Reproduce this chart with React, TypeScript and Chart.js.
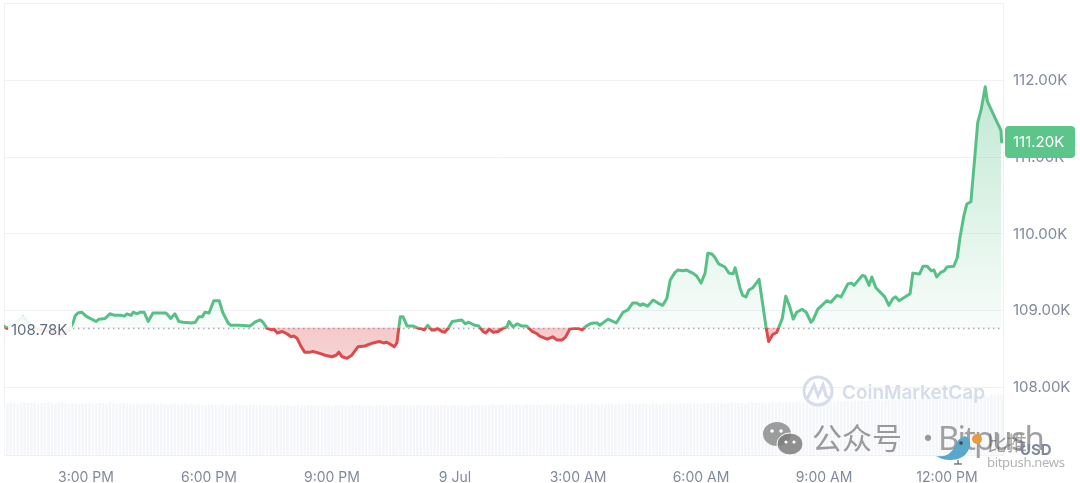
import React, { useEffect, useRef } from "react";
import { Chart, registerables } from "chart.js";

Chart.register(...registerables);

// minutes since 1:00 PM
const minutes = [0,4,15,28,40,53,67,85,95,101,104,108,114,120,126,135,139,148,155,162,170,176,180,186,189,195,199,205,211,218,224,237,240,244,250,256,262,275,280,285,290,294,300,307,315,320,328,332,345,
360,367,375,379,385,392,395,400,407,414,420,424,429,435,440,448,452,460,470,480,486,490,495,502,509,518,528,540,549,555,560,566,571,575,578,580,584,590,599,607,
609,615,620,626,631,634,641,645,650,656,670,675,680,689,695,701,705,710,716,723,730,736,739,745,751,758,765,773,780,784,795,803,809,817,822,828,834,840,846,852,858,863,868,872,
884,896,906,913,920,926,931,935,942,950,957,964,970,975,982,986,994,999,1008,1014,1020,1026,1030,1036,1040,1046,1055,1061,1067,1070,1077,1081,1086,1090,1096,1105,1115,1119,1125,1131,1139,1144,1150,1155,1160,1168,1174,1181,1184,1191,1197,1204,1210,1219,1225,1235,1240,1244,1256,1260,1266,1270,1276,1289,1295,1301,1305,1310,1326,1330,1340,1345,1351,1357,1361,1365,1371,1376,1380,1390,1395,1399,1405,1409,1415,1421,1425,1430,1436,1439,1450,1459,1460];

// price in thousands of USD
const prices = [108.80,108.77,108.83,108.92,108.81,108.75,108.73,108.68,108.75,108.84,108.93,108.97,108.98,108.93,108.90,108.86,108.89,108.90,108.96,108.94,108.94,108.93,108.96,108.94,108.98,108.96,108.98,108.98,108.86,108.97,108.97,108.97,108.94,108.90,108.96,108.86,108.85,108.84,108.85,108.92,108.92,108.98,108.97,109.13,109.13,108.98,108.84,108.81,108.81,
108.80,108.85,108.88,108.85,108.77,108.75,108.76,108.71,108.73,108.70,108.66,108.67,108.64,108.53,108.46,108.46,108.47,108.45,108.42,108.40,108.42,108.46,108.40,108.38,108.42,108.53,108.54,108.58,108.60,108.58,108.59,108.56,108.53,108.58,108.79,108.92,108.92,108.80,108.80,108.77,
108.77,108.75,108.81,108.75,108.75,108.77,108.73,108.72,108.77,108.86,108.88,108.83,108.85,108.81,108.80,108.73,108.71,108.76,108.72,108.73,108.77,108.79,108.86,108.79,108.83,108.80,108.80,108.73,108.70,108.67,108.63,108.66,108.62,108.62,108.66,108.76,108.77,108.77,108.75,108.80,108.83,108.84,108.84,108.81,
108.89,108.84,108.98,109.01,109.10,109.10,109.07,109.09,109.06,109.14,109.10,109.07,109.16,109.40,109.50,109.53,109.52,109.53,109.49,109.45,109.36,109.49,109.75,109.74,109.70,109.61,109.57,109.49,109.48,109.56,109.30,109.20,109.18,109.27,109.30,109.41,108.80,108.60,108.69,108.72,108.90,109.19,109.05,108.89,108.98,109.02,108.98,108.85,108.88,109.02,109.07,109.13,109.11,109.20,109.18,109.35,109.36,109.33,109.46,109.45,109.33,109.44,109.30,109.18,109.07,109.16,109.18,109.13,109.22,109.49,109.48,109.58,109.58,109.52,109.53,109.44,109.50,109.52,109.57,109.58,109.69,109.95,110.25,110.39,110.42,111.03,111.45,111.62,111.92,111.73,111.52,111.35,111.20];

// bars every five minutes from 1:00 PM, arbitrary volume units
const volumes = [
100,99,101,100,98,100,101,99,100,100,97,99,100,101,99,98,100,101,100,98,
99,100,97,98,99,100,98,98,100,99,97,101,100,98,99,100,99,98,97,98,
97,97,98,97,98,96,98,97,96,97,98,96,97,98,96,97,96,97,96,95,
97,96,96,95,97,96,95,96,97,95,96,95,96,96,95,96,95,96,95,94,
96,95,95,96,94,95,96,95,94,95,96,95,95,94,96,95,94,95,95,96,
95,94,96,95,95,94,95,96,94,95,95,96,95,94,95,96,95,95,94,96,
95,96,95,94,96,95,96,95,95,96,94,95,96,95,96,95,94,96,95,96,
96,95,96,97,95,96,96,97,95,96,97,96,95,97,96,96,97,96,95,97,
96,97,96,97,98,96,97,96,98,97,96,97,98,97,96,98,97,98,97,96,
98,97,98,99,97,98,97,99,98,97,99,98,97,99,98,99,97,98,99,98,
99,98,100,99,98,100,99,98,100,99,100,98,99,101,100,99,100,98,100,101,
99,100,101,99,100,102,100,101,99,101,102,100,101,102,100,102,101,103,101,102,
103,101,103,102,104,102,103,104,102,104,103,105,103,104,106,104,105,103,106,104,
106,105,107,105,108,106,107,109,107,109,108,110,108,110,109,111,109,112,110,111,
112,110,113,111,114,112,113,115,113,116,114,116,115,117,115,118,116,118,117,119
];

const referencePrice = 108.78;
const lastPrice = "111.20K";
const referenceLabel = "108.78K";
const priceTicks = [108, 109, 110, 111, 112, 113];
const timeTicks = [120, 300, 480, 660, 840, 1020, 1200, 1380];
const timeLabels = ["3:00 PM", "6:00 PM", "9:00 PM", "9 Jul", "3:00 AM", "6:00 AM", "9:00 AM", "12:00 PM"];

const GREEN = "#57c087";
const RED = "#dc4a4c";
const FONT = "Inter, 'Noto Sans', sans-serif";

const overlay = {
  id: "overlay",
  beforeDatasetsDraw(chart: any) {
    const { ctx, chartArea: a, scales } = chart;
    ctx.save();
    ctx.strokeStyle = "#eff2f5";
    ctx.lineWidth = 1;
    ctx.beginPath();
    ctx.moveTo(a.left + 0.5, a.top);
    ctx.lineTo(a.left + 0.5, a.bottom);
    ctx.moveTo(a.right + 0.5, a.top);
    ctx.lineTo(a.right + 0.5, a.bottom);
    ctx.stroke();
    const y = Math.round(scales.y.getPixelForValue(referencePrice)) + 0.5;
    ctx.strokeStyle = "#a6adb8";
    ctx.lineWidth = 1.5;
    ctx.setLineDash([1.5, 3.5]);
    ctx.beginPath();
    ctx.moveTo(a.left + 4, y);
    ctx.lineTo(a.right, y);
    ctx.stroke();
    ctx.restore();
  },
  afterDatasetsDraw(chart: any) {
    const { ctx, chartArea: a, scales } = chart;
    const y = scales.y.getPixelForValue(referencePrice);
    ctx.save();
    ctx.fillStyle = "rgba(255,255,255,0.9)";
    ctx.fillRect(a.left + 4, y - 12, 64, 26);
    ctx.fillStyle = "#616e85";
    ctx.font = `15px ${FONT}`;
    ctx.textBaseline = "middle";
    ctx.textAlign = "left";
    ctx.fillText(referenceLabel, a.left + 7, y + 3);
    ctx.restore();
  },
  afterDraw(chart: any) {
    const { ctx, chartArea: a, scales } = chart;
    const y = scales.y.getPixelForValue(Number(lastPrice.replace("K", "")));
    ctx.save();
    ctx.fillStyle = "#5cc68a";
    ctx.beginPath();
    ctx.roundRect(a.right + 2, y - 16, 70, 32, 4);
    ctx.fill();
    ctx.fillStyle = "#ffffff";
    ctx.font = `15px ${FONT}`;
    ctx.textBaseline = "middle";
    ctx.textAlign = "left";
    ctx.fillText(lastPrice, a.right + 10, y + 1);
    ctx.restore();
  },
};

export default function App() {
  const ref = useRef<HTMLCanvasElement>(null);
  useEffect(() => {
    const canvas = ref.current!;
    const chart = new Chart(canvas, {
      type: "line",
      data: {
        datasets: [
          {
            type: "line",
            data: minutes.map((m, i) => ({ x: m, y: prices[i] })),
            borderColor: GREEN,
            borderWidth: 3,
            borderJoinStyle: "round",
            borderCapStyle: "round",
            pointRadius: 0,
            tension: 0,
            order: 1,
            yAxisID: "y",
          } as any,
          {
            type: "bar",
            data: volumes.map((v, i) => ({ x: i * 5, y: v })),
            backgroundColor: "#f4f6f9",
            barThickness: 1.8,
            order: 2,
            yAxisID: "vol",
          } as any,
        ],
      },
      options: {
        animation: false,
        responsive: false,
        events: [],
        layout: { padding: { left: 4, top: 3, right: 0, bottom: 0 } },
        plugins: { legend: { display: false }, tooltip: { enabled: false } },
        scales: {
          x: {
            type: "linear",
            offset: false,
            min: 0,
            max: 1462,
            afterBuildTicks: (s: any) => {
              s.ticks = timeTicks.map((value) => ({ value }));
            },
            afterFit: (s: any) => {
              s.height = 28;
              s.paddingLeft = 0;
              s.paddingRight = 0;
            },
            grid: { display: false },
            border: { display: true, color: "#eff2f5" },
            ticks: {
              autoSkip: false,
              maxRotation: 0,
              padding: 6,
              color: "#808a9d",
              font: { family: FONT, size: 14 },
              callback: (v: any) => timeLabels[timeTicks.indexOf(v)] ?? "",
            },
          },
          y: {
            position: "right",
            min: 107.12,
            max: 113.01,
            afterBuildTicks: (s: any) => {
              s.ticks = priceTicks.map((value) => ({ value }));
            },
            afterFit: (s: any) => {
              s.width = 77;
              s.paddingTop = 0;
              s.paddingBottom = 0;
            },
            grid: { color: "#eff2f5", drawTicks: false },
            border: { display: false },
            ticks: {
              padding: 10,
              color: "#808a9d",
              font: { family: FONT, size: 15 },
              callback: (v: any) => (v === 113 ? "" : `${Number(v).toFixed(2)}K`),
            },
          },
          vol: { display: false, min: 0, max: 869 },
        },
      },
      plugins: [overlay],
    } as any);

    const ctx = canvas.getContext("2d")!;
    const base = chart.scales.y.getPixelForValue(referencePrice);
    const top = chart.scales.y.getPixelForValue(Math.max(...prices));
    const low = chart.scales.y.getPixelForValue(Math.min(...prices));

    const stroke = ctx.createLinearGradient(0, top, 0, low);
    const f = (base - top) / (low - top);
    stroke.addColorStop(0, GREEN);
    stroke.addColorStop(f, GREEN);
    stroke.addColorStop(f, RED);
    stroke.addColorStop(1, RED);

    const above = ctx.createLinearGradient(0, top, 0, base);
    above.addColorStop(0, "rgba(87,192,135,0.36)");
    above.addColorStop(1, "rgba(87,192,135,0.04)");

    const below = ctx.createLinearGradient(0, base, 0, low);
    below.addColorStop(0, "rgba(220,74,76,0.30)");
    below.addColorStop(1, "rgba(220,74,76,0.24)");

    const ds: any = chart.data.datasets[0];
    ds.borderColor = stroke;
    ds.fill = { target: { value: referencePrice }, above, below };
    chart.update();
    return () => chart.destroy();
  }, []);

  return (
    <div style={{ position: "fixed", left: 0, top: 0, width: 1080, height: 483, background: "#fff", overflow: "hidden" }}>
      <canvas ref={ref} width={1080} height={483} style={{ position: "absolute", left: 0, top: 0, width: 1080, height: 483 }} />
      <svg width={1080} height={483} style={{ position: "absolute", left: 0, top: 0 }}>
        <circle cx={818} cy={391} r={14} fill="none" stroke="#d6dce9" strokeWidth={3} />
        <path d="M807 399 L814 385 L818 396 L823 385 L826 396 Q829 399 832 396" fill="none" stroke="#d6dce9" strokeWidth={3} />
        <text x={842} y={399} fontFamily={FONT} fontSize={19} fontWeight={600} fill="#d6dce9" textLength={143}>CoinMarketCap</text>
        <ellipse cx={777} cy={434} rx={14} ry={12} fill="rgba(125,125,125,0.75)" />
        <ellipse cx={790} cy={444} rx={13} ry={11} fill="rgba(125,125,125,0.85)" stroke="#fff" strokeWidth={1} />
        <circle cx={772} cy={431} r={1.8} fill="#fff" />
        <circle cx={781} cy={431} r={1.8} fill="#fff" />
        <circle cx={786} cy={442} r={1.6} fill="#fff" />
        <circle cx={794} cy={442} r={1.6} fill="#fff" />
        <text x={812} y={449} fontFamily="'Noto Sans CJK SC'" fontSize={30} fill="rgba(130,130,130,0.8)">公众号</text>
        <text x={913} y={449} fontFamily="'Noto Sans CJK SC'" fontSize={30} fill="rgba(130,130,130,0.8)">·</text>
        <text x={938} y={450} fontFamily="'Noto Sans'" fontSize={33} fill="rgba(130,130,130,0.75)" textLength={107}>Bitpush</text>
        <text x={987} y={451} fontFamily="'Noto Sans CJK SC'" fontSize={20} fill="rgba(90,90,90,0.55)">比推</text>
        <path d="M936 456 Q950 458 955 446 Q958 438 965 436 Q971 438 970 446 Q966 460 950 460 Q942 460 936 456 Z" fill="#5aa7cc" />
        <circle cx={961} cy={443} r={1.8} fill="#444" />
        <path d="M958 460 L958 464 M954 464 L962 464" stroke="#444" strokeWidth={1} />
        <circle cx={977} cy={439} r={5} fill="#e89a3c" />
        <text x={1020} y={455} fontFamily={FONT} fontSize={15} fontWeight={700} fill="#7f8aa0">USD</text>
        <text x={987} y={467} fontFamily="'Noto Sans'" fontSize={13} fill="#b4b4b4" textLength={78}>bitpush.news</text>
      </svg>
    </div>
  );
}
